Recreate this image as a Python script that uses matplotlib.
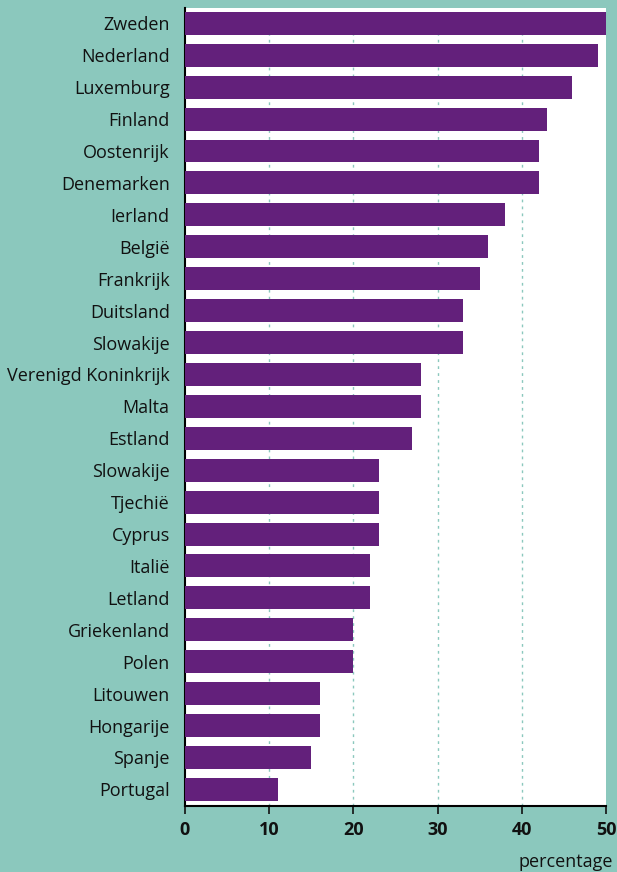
import matplotlib
matplotlib.use("Agg")
import matplotlib.pyplot as plt

countries = ["Zweden", "Nederland", "Luxemburg", "Finland", "Oostenrijk", "Denemarken",
             "Ierland", "België", "Frankrijk", "Duitsland", "Slowakije",
             "Verenigd Koninkrijk", "Malta", "Estland", "Slowakije", "Tjechië", "Cyprus",
             "Italië", "Letland", "Griekenland", "Polen", "Litouwen", "Hongarije",
             "Spanje", "Portugal"]
values = [50, 49, 46, 43, 42, 42, 38, 36, 35, 33, 33, 28, 28, 27, 23, 23, 23,
          22, 22, 20, 20, 16, 16, 15, 11]
xticks = [0, 10, 20, 30, 40, 50]

bg = "#8bc8bd"
purple = "#63207b"

plt.rcParams['font.family'] = ['Open Sans', 'DejaVu Sans']

fig = plt.figure(figsize=(6.17, 8.72), dpi=100, facecolor=bg)
ax = fig.add_axes([185/617, 1-806/872, 421/617, 798/872])
ax.set_facecolor("white")

n = len(countries)
pos = list(range(n))[::-1]
ax.barh(pos, values, height=0.72, color=purple, zorder=3)
ax.set_yticks(pos)
ax.set_yticklabels(countries, fontsize=13)
ax.set_ylim(-0.52, n - 0.52)
ax.set_xlim(0, 50)
ax.set_xticks(xticks)
ax.set_xticklabels([str(t) for t in xticks], fontsize=13, fontweight='bold')

for t in xticks[1:-1]:
    ax.axvline(t, color=bg, linestyle=(0, (2, 3)), linewidth=1, zorder=1)

for s in ["top", "right"]:
    ax.spines[s].set_visible(False)
ax.spines["left"].set_color("black")
ax.spines["bottom"].set_color("black")
ax.spines["left"].set_linewidth(1.5)
ax.spines["bottom"].set_linewidth(1.5)
ax.tick_params(axis='y', length=0, pad=11, colors='#111111')
ax.tick_params(axis='x', length=6, width=1.2, direction='out', pad=5, colors='#111111')

fig.text(613/617, 1-862/872, "percentage", ha='right', va='center', fontsize=13, color='#111111')

fig.savefig("out.png", dpi=100, facecolor=bg)
